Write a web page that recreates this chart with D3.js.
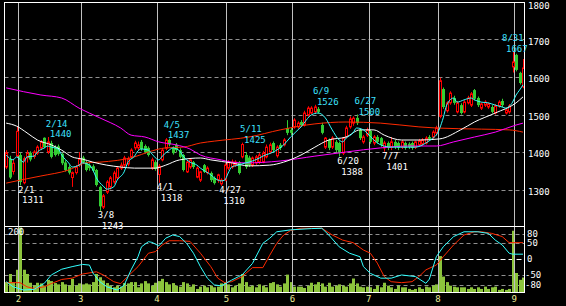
<!DOCTYPE html>
<html>
<head>
<meta charset="utf-8">
<script src="https://cdn.jsdelivr.net/npm/d3@7"></script>
<style>
  body { margin: 0; background: #000; }
  svg { display: block; }
  text { font-family: "DejaVu Sans Mono", monospace; font-size: 9px; }
</style>
</head>
<body>
<div id="chart"></div>
<script>
// month tick labels and the trading-day index where each month starts
const months = ["2", "3", "4", "5", "6", "7", "8", "9"];
const monthStart = [4, 22, 44, 64, 83, 105, 125, 147];

const priceTicks = [1800, 1700, 1600, 1500, 1400, 1300];
const oscTicks = [80, 50, 0, -50, -80];

// daily candles [open, high, low, close], late Jan .. early Sep
const ohlc = [
  [1360,1405,1355,1398],[1382,1390,1328,1332],[1348,1382,1340,1370],[1390,1467,1385,1455],
  [1392,1398,1311,1320],[1318,1388,1314,1382],[1385,1405,1372,1397],[1398,1402,1375,1380],
  [1388,1405,1382,1400],[1397,1418,1392,1413],[1410,1432,1405,1427],[1438,1439,1410,1413],
  [1400,1440,1395,1427],[1424,1430,1383,1387],[1413,1418,1388,1392],[1415,1420,1390,1395],
  [1395,1398,1365,1370],[1372,1378,1348,1352],[1360,1365,1340,1345],[1332,1348,1307,1345],
  [1345,1365,1340,1360],[1365,1400,1360,1380],[1385,1390,1368,1372],[1372,1376,1348,1352],
  [1365,1370,1350,1357],[1362,1367,1346,1350],[1352,1355,1308,1312],[1307,1310,1243,1255],
  [1253,1288,1248,1283],[1293,1325,1288,1320],[1307,1336,1300,1331],[1320,1350,1315,1344],
  [1331,1362,1327,1357],[1357,1372,1352,1365],[1365,1390,1360,1384],[1368,1388,1362,1382],
  [1387,1410,1383,1405],[1411,1430,1405,1424],[1411,1428,1405,1419],[1427,1432,1403,1408],
  [1416,1420,1396,1400],[1411,1415,1388,1392],[1357,1385,1352,1379],[1373,1378,1350,1355],
  [1340,1368,1318,1362],[1379,1410,1375,1405],[1410,1437,1405,1432],[1432,1436,1415,1420],
  [1411,1415,1393,1397],[1419,1424,1400,1405],[1405,1410,1383,1387],[1392,1395,1348,1352],
  [1347,1378,1344,1373],[1360,1384,1355,1379],[1373,1376,1355,1360],[1333,1362,1330,1357],
  [1325,1350,1320,1347],[1365,1368,1344,1347],[1345,1362,1340,1357],[1344,1348,1320,1325],
  [1331,1335,1313,1317],[1325,1342,1318,1339],[1315,1330,1310,1325],[1325,1370,1322,1365],
  [1357,1378,1352,1373],[1360,1380,1355,1373],[1365,1378,1360,1373],[1373,1376,1340,1344],
  [1387,1425,1383,1420],[1392,1400,1355,1360],[1385,1390,1360,1365],[1365,1388,1360,1384],
  [1371,1392,1366,1387],[1373,1398,1368,1392],[1373,1403,1370,1397],[1387,1420,1383,1413],
  [1400,1425,1395,1419],[1424,1428,1400,1405],[1390,1418,1385,1413],[1419,1424,1405,1411],
  [1419,1437,1415,1432],[1464,1485,1445,1451],[1459,1465,1445,1451],[1467,1490,1462,1485],
  [1467,1482,1462,1477],[1480,1485,1468,1472],[1472,1510,1468,1504],[1499,1522,1494,1517],
  [1504,1522,1500,1517],[1507,1526,1502,1520],[1515,1520,1502,1507],[1472,1478,1447,1451],
  [1413,1440,1408,1437],[1432,1436,1405,1411],[1413,1442,1408,1437],[1427,1432,1400,1405],
  [1424,1428,1388,1397],[1397,1440,1392,1437],[1440,1470,1437,1464],[1467,1495,1462,1488],
  [1477,1495,1470,1490],[1491,1500,1472,1477],[1459,1462,1432,1437],[1427,1445,1422,1440],
  [1445,1465,1440,1459],[1456,1460,1422,1427],[1424,1445,1418,1440],[1440,1445,1422,1427],
  [1437,1440,1414,1419],[1411,1430,1401,1424],[1424,1428,1405,1411],[1413,1440,1405,1427],
  [1427,1432,1408,1413],[1424,1428,1405,1411],[1413,1432,1408,1427],[1424,1428,1406,1411],
  [1422,1426,1408,1413],[1424,1428,1406,1411],[1413,1430,1408,1427],[1419,1435,1415,1430],
  [1421,1437,1417,1432],[1424,1442,1420,1437],[1440,1445,1430,1435],[1440,1458,1435,1453],
  [1451,1470,1445,1464],[1495,1598,1490,1590],[1568,1572,1515,1520],[1510,1535,1505,1531],
  [1531,1562,1526,1557],[1544,1550,1526,1531],[1507,1536,1503,1531],[1525,1530,1500,1504],
  [1507,1538,1503,1533],[1531,1550,1527,1544],[1525,1560,1520,1555],[1565,1568,1538,1542],
  [1544,1548,1520,1525],[1517,1532,1512,1528],[1525,1538,1520,1533],[1520,1532,1515,1528],
  [1520,1525,1503,1507],[1504,1528,1500,1523],[1523,1538,1518,1533],[1536,1542,1520,1525],
  [1504,1518,1500,1512],[1507,1528,1502,1523],[1627,1667,1612,1640],[1659,1662,1615,1619],
  [1611,1614,1580,1584],[1574,1648,1570,1624]
];

const volume = [
  32,57,32,70,200,70,57,30,21,30,28,21,39,35,29,25,32,25,21,42,
  21,28,25,28,25,32,57,47,37,29,21,16,21,18,29,28,32,32,16,28,
  35,28,21,30,35,42,32,25,29,21,18,32,28,18,25,11,18,21,16,21,
  16,18,28,32,25,16,21,28,57,32,18,21,16,25,21,16,29,32,25,18,
  28,55,32,18,18,18,14,21,30,25,32,28,18,30,18,21,25,21,18,28,
  43,28,18,16,18,16,11,21,16,30,21,16,11,21,16,16,11,8,11,16,
  11,18,16,21,25,112,49,32,21,18,16,16,16,11,16,11,16,11,18,11,
  16,18,8,11,8,11,190,60,39,46
];

// moving averages: [day index, price]
const maFast = [
  [0,1392],[2,1379],[3,1387],[5,1373],[6,1387],[8,1389],[9,1400],[11,1411],[12,1416],[13,1413],
  [15,1408],[16,1392],[18,1371],[19,1360],[21,1365],[22,1371],[24,1365],[25,1352],[26,1331],[28,1309],
  [29,1301],[31,1307],[32,1325],[34,1347],[35,1371],[37,1389],[38,1403],[39,1408],[41,1405],[42,1395],
  [44,1379],[45,1389],[47,1405],[48,1411],[50,1403],[51,1389],[53,1373],[55,1365],[56,1357],[59,1339],
  [60,1331],[62,1323],[63,1325],[64,1344],[65,1360],[67,1365],[69,1371],[70,1373],[73,1384],[74,1389],
  [77,1400],[80,1419],[82,1440],[85,1467],[88,1499],[90,1504],[92,1491],[94,1459],[96,1432],[97,1427],
  [98,1437],[100,1451],[101,1464],[103,1459],[104,1451],[106,1432],[108,1419],[111,1413],[115,1413],[118,1413],
  [121,1424],[123,1437],[124,1445],[126,1491],[127,1525],[129,1544],[130,1533],[132,1539],[134,1544],[135,1539],
  [137,1533],[139,1531],[141,1525],[143,1520],[144,1517],[146,1533],[147,1552],[148,1565],[149,1579]
];
const maMid = [
  [0,1477],[3,1469],[6,1451],[9,1432],[13,1419],[16,1405],[19,1387],[22,1381],[25,1373],[29,1365],
  [33,1360],[37,1357],[43,1357],[46,1365],[50,1379],[56,1384],[59,1379],[65,1371],[70,1363],[76,1365],
  [80,1373],[85,1392],[89,1413],[93,1432],[98,1440],[102,1459],[106,1459],[109,1445],[114,1432],[119,1432],
  [125,1435],[131,1459],[135,1480],[141,1504],[147,1531],[149,1547]
];
const maSlow = [
  [0,1571],[10,1552],[16,1544],[21,1517],[27,1491],[33,1464],[36,1445],[40,1440],[44,1427],[49,1419],
  [53,1408],[56,1392],[62,1379],[65,1373],[69,1371],[79,1376],[89,1389],[98,1400],[108,1411],[116,1416],
  [124,1416],[129,1427],[135,1440],[141,1453],[147,1472],[149,1477]
];
const maLong = [
  [0,1317],[4,1325],[10,1336],[18,1352],[23,1371],[27,1373],[37,1387],[41,1400],[46,1411],[51,1413],
  [56,1424],[60,1429],[70,1440],[79,1459],[89,1475],[98,1480],[108,1477],[119,1467],[124,1464],[137,1461],
  [145,1459],[149,1453]
];

// oscillator, fast and slow lines: [day index, value]
const oscFast = [
  [0,-70],[2,-86],[5,-96],[8,-94],[11,-75],[13,-49],[16,-31],[19,-23],[22,-16],[24,-18],
  [25,-43],[27,-70],[29,-86],[32,-96],[34,-81],[36,-33],[38,8],[39,39],[41,55],[42,53],
  [44,42],[46,66],[48,76],[50,71],[52,50],[54,19],[56,-23],[58,-59],[60,-80],[62,-83],
  [65,-65],[67,-54],[68,-49],[71,-13],[74,50],[76,66],[78,86],[82,92],[88,96],[91,97],
  [93,76],[96,39],[99,19],[102,8],[103,-23],[105,-44],[108,-59],[111,-59],[114,-49],[118,-54],
  [121,-75],[122,-62],[124,8],[126,39],[129,71],[132,86],[136,86],[139,81],[141,60],[143,45],
  [145,19],[146,16],[149,16]
];
const oscSlow = [
  [0,-73],[4,-73],[6,-86],[8,-91],[11,-86],[13,-76],[16,-63],[19,-59],[22,-46],[26,-39],
  [28,-49],[31,-70],[33,-76],[35,-54],[38,-23],[41,19],[43,24],[45,45],[47,58],[50,58],
  [53,56],[56,19],[59,-23],[61,-59],[63,-73],[65,-70],[68,-54],[71,-26],[74,-26],[76,13],
  [78,50],[80,76],[82,90],[85,97],[91,97],[94,76],[97,60],[100,52],[103,29],[105,19],
  [107,-12],[109,-54],[111,-70],[114,-73],[117,-70],[119,-54],[121,-33],[124,-18],[126,8],[129,45],
  [132,76],[135,86],[137,86],[140,81],[143,71],[145,52],[149,52]
];

// labelled highs and lows
const marks = [
  {i: 12, kind: "high", date: "2/14", price: 1440},
  {i: 46, kind: "high", date: "4/5", price: 1437},
  {i: 68, kind: "high", date: "5/11", price: 1425},
  {i: 89, kind: "high", date: "6/9", price: 1526},
  {i: 101, kind: "high", date: "6/27", price: 1500},
  {i: 146, kind: "high", date: "8/31", price: 1667},
  {i: 4, kind: "low", date: "2/1", price: 1311},
  {i: 27, kind: "low", date: "3/8", price: 1243},
  {i: 44, kind: "low", date: "4/1", price: 1318},
  {i: 62, kind: "low", date: "4/27", price: 1310},
  {i: 96, kind: "low", date: "6/20", price: 1388},
  {i: 109, kind: "low", date: "7/7", price: 1401}
];

const W = 566, H = 306;
const frameL = 4.5, frameR = 524.5, frameT = 2.5, frameM = 226.5, frameB = 292.5;

const svg = d3.select("#chart").append("svg")
  .attr("width", W).attr("height", H)
  .style("background", "#000");

const x = d3.scaleLinear().domain([0, ohlc.length - 1]).range([6.2, 523]);
const y = d3.scaleLinear().domain([1200, 1800]).range([227, 2]);
const yo = d3.scaleLinear().domain([-100, 100]).range([291.3, 227.3]);
const yv = d3.scaleLinear().domain([0, 200]).range([292.5, 227.5]);

const defs = svg.append("defs");
defs.append("clipPath").attr("id", "clipMain")
  .append("rect").attr("x", frameL).attr("y", frameT).attr("width", frameR - frameL).attr("height", frameM - frameT);
defs.append("clipPath").attr("id", "clipLow")
  .append("rect").attr("x", frameL).attr("y", frameM).attr("width", frameR - frameL).attr("height", frameB - frameM);

const px = v => Math.round(v) + 0.5;

// horizontal grid, main panel
svg.append("g").selectAll("line")
  .data(priceTicks.filter(d => d < 1800))
  .join("line")
  .attr("x1", frameL).attr("x2", frameR)
  .attr("y1", d => px(y(d))).attr("y2", d => px(y(d)))
  .attr("stroke", "#909090").attr("stroke-dasharray", "4,3");

// horizontal grid, lower panel
svg.append("g").selectAll("line")
  .data(oscTicks)
  .join("line")
  .attr("x1", frameL).attr("x2", frameR)
  .attr("y1", d => px(yo(d))).attr("y2", d => px(yo(d)))
  .attr("stroke", d => d === 0 ? "#fff" : "#909090")
  .attr("stroke-dasharray", d => d === 0 ? "5,3" : "4,3");

// volume bars
svg.append("g").attr("clip-path", "url(#clipLow)")
  .selectAll("rect")
  .data(volume)
  .join("rect")
  .attr("x", (d, i) => Math.round(x(i)) - 1)
  .attr("width", 3)
  .attr("y", d => yv(d))
  .attr("height", d => yv(0) - yv(d))
  .attr("fill", "#8cc43c");

// month lines
svg.append("g").selectAll("line")
  .data(monthStart)
  .join("line")
  .attr("x1", d => px(x(d - 0.5))).attr("x2", d => px(x(d - 0.5)))
  .attr("y1", frameT).attr("y2", frameB)
  .attr("stroke", "#c0c0c0");

// candles
const candles = svg.append("g").attr("clip-path", "url(#clipMain)")
  .selectAll("g")
  .data(ohlc)
  .join("g");

candles.append("line")
  .attr("x1", (d, i) => px(x(i))).attr("x2", (d, i) => px(x(i)))
  .attr("y1", d => y(d[1])).attr("y2", d => y(d[2]))
  .attr("stroke", d => d[3] >= d[0] ? "#ff0000" : "#33cc33");

candles.append("rect")
  .attr("x", (d, i) => d[3] >= d[0] ? Math.round(x(i)) - 0.5 : Math.round(x(i)) - 1)
  .attr("width", d => d[3] >= d[0] ? 2 : 3)
  .attr("y", d => y(Math.max(d[0], d[3])))
  .attr("height", d => Math.max(1, Math.abs(y(d[0]) - y(d[3]))))
  .attr("fill", d => d[3] >= d[0] ? "#000" : "#33cc33")
  .attr("stroke", d => d[3] >= d[0] ? "#ff0000" : "none");

// moving averages
const maLine = d3.line().x(d => x(d[0])).y(d => y(d[1])).curve(d3.curveMonotoneX);
const mainLines = svg.append("g").attr("clip-path", "url(#clipMain)").attr("fill", "none");
[[maLong, "#ff2a00"], [maSlow, "#ff00ff"], [maMid, "#ffffff"], [maFast, "#33ffff"]].forEach(([data, color]) => {
  mainLines.append("path").attr("d", maLine(data)).attr("stroke", color).attr("stroke-width", 1);
});

// oscillator
const oscLine = d3.line().x(d => x(d[0])).y(d => yo(d[1]));
const lowLines = svg.append("g").attr("clip-path", "url(#clipLow)").attr("fill", "none");
lowLines.append("path").attr("d", oscLine(oscSlow)).attr("stroke", "#ff2a00");
lowLines.append("path").attr("d", oscLine(oscFast)).attr("stroke", "#33ffff");

// frames
svg.append("rect").attr("x", frameL).attr("y", frameT).attr("width", frameR - frameL).attr("height", frameB - frameT)
  .attr("fill", "none").attr("stroke", "#fff");
svg.append("line").attr("x1", frameL).attr("x2", frameR).attr("y1", frameM).attr("y2", frameM).attr("stroke", "#fff");

// price labels
svg.append("g").selectAll("text")
  .data(priceTicks)
  .join("text")
  .attr("x", 528).attr("y", d => Math.max(y(d) + 2.5, 6.5))
  .attr("dominant-baseline", "middle")
  .attr("fill", "#fff")
  .text(d => d);

// oscillator labels
svg.append("g").selectAll("text")
  .data(oscTicks)
  .join("text")
  .attr("x", d => d < 0 ? 525 : 527).attr("y", d => yo(d) + 0.5)
  .attr("dominant-baseline", "middle")
  .attr("fill", "#fff")
  .text(d => d);

svg.append("text").attr("x", 8).attr("y", 232).attr("dominant-baseline", "middle")
  .attr("fill", "#fff").text("200");

// month labels
svg.append("g").selectAll("text")
  .data(monthStart)
  .join("text")
  .attr("x", d => x(d - 0.5)).attr("y", 299)
  .attr("text-anchor", "middle").attr("dominant-baseline", "middle")
  .attr("fill", "#eeee99")
  .text((d, i) => months[i]);

// high / low annotations (kept clear of the price labels on the right)
const annX = d => Math.min(x(d.i) - 2, 502);
const ann = svg.append("g").selectAll("g")
  .data(marks)
  .join("g")
  .attr("fill", d => d.kind === "high" ? "#3de0ff" : "#fff");

ann.append("text")
  .attr("x", d => annX(d))
  .attr("y", d => d.kind === "high" ? y(d.price) - 13 : y(d.price) + 5)
  .attr("dominant-baseline", "middle")
  .text(d => d.date);

ann.append("text")
  .attr("x", d => annX(d) + 4)
  .attr("y", d => d.kind === "high" ? y(d.price) - 2.5 : y(d.price) + 15.5)
  .attr("dominant-baseline", "middle")
  .text(d => d.price);
</script>
</body>
</html>
